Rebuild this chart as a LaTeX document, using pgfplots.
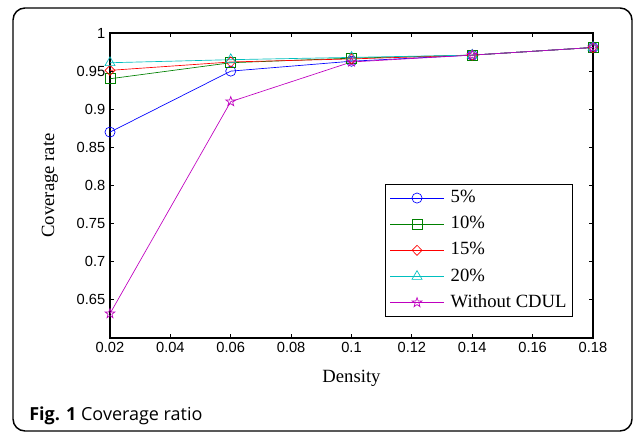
\documentclass[border=0pt]{standalone}
\usepackage{fontspec}
\usepackage{pgfplots}
\pgfplotsset{compat=1.18}
\setmainfont{Liberation Serif}
\newfontfamily\tickfont{Liberation Sans}
\newfontfamily\capfont{Open Sans}

\definecolor{mblue}{rgb}{0,0,1}
\definecolor{mgreen}{rgb}{0,0.5,0}
\definecolor{mred}{rgb}{1,0,0}
\definecolor{mcyan}{rgb}{0,0.75,0.75}
\definecolor{mmagenta}{rgb}{0.75,0,0.75}

% MATLAB-like pentagram outline
\pgfdeclareplotmark{pentagram}{%
  \pgfpathmoveto{\pgfpointpolar{90}{\pgfplotmarksize}}%
  \pgfpathlineto{\pgfpointpolar{126}{0.4\pgfplotmarksize}}%
  \pgfpathlineto{\pgfpointpolar{162}{\pgfplotmarksize}}%
  \pgfpathlineto{\pgfpointpolar{198}{0.4\pgfplotmarksize}}%
  \pgfpathlineto{\pgfpointpolar{234}{\pgfplotmarksize}}%
  \pgfpathlineto{\pgfpointpolar{270}{0.4\pgfplotmarksize}}%
  \pgfpathlineto{\pgfpointpolar{306}{\pgfplotmarksize}}%
  \pgfpathlineto{\pgfpointpolar{342}{0.4\pgfplotmarksize}}%
  \pgfpathlineto{\pgfpointpolar{18}{\pgfplotmarksize}}%
  \pgfpathlineto{\pgfpointpolar{54}{0.4\pgfplotmarksize}}%
  \pgfpathclose\pgfusepathqstroke}

\begin{document}
\begin{tikzpicture}
  % page = 635 x 432 px at 0.75pt per px
  \useasboundingbox (0,0) rectangle (476.25pt,324pt);
  \draw[line width=1.1pt, rounded corners=9pt] (9.75pt,0.75pt) rectangle (474pt,318pt);

  \begin{axis}[
    at={(82.5pt,70.5pt)}, anchor=south west,
    scale only axis,
    width=362.25pt, height=228.75pt,
    xmin=0.02, xmax=0.18,
    ymin=0.6, ymax=1,
    xtick={0.02,0.04,...,0.18},
    ytick={0.65,0.7,0.75,0.8,0.85,0.9,0.95,1},
    tick align=inside,
    major tick length=3pt,
    axis line style={line width=0.8pt},
    every tick/.style={black, line width=0.6pt},
    /pgf/number format/assume math mode=true,
    /pgf/number format/fixed,
    /pgf/number format/precision=2,
    ticklabel style={font=\tickfont\fontsize{11}{13}\selectfont},
    xlabel={Density},
    ylabel={Coverage rate},
    label style={font=\fontsize{14}{16}\selectfont},
    xlabel style={yshift=-6pt},
    ylabel style={yshift=7pt},
    legend style={
      at={(0.9586,0.0689)}, anchor=south east,
      font=\fontsize{14}{16}\selectfont,
      draw=black, line width=0.6pt,
      inner xsep=3.5pt, inner ysep=3pt,
      row sep=4.6pt,
      nodes={inner sep=1pt, text height=10pt, text depth=3pt},
    },
    legend cell align=left,
    legend image code/.code={
      \draw[#1, mark repeat=2, mark phase=2] plot coordinates {(0pt,0pt) (20pt,0pt) (40pt,0pt)};
      \path (44pt,0pt);
    },
    every axis plot/.append style={line width=0.5pt, mark size=3.8pt, mark options={solid, fill=none}},
  ]
    \addplot[mblue, mark=o] coordinates {
      (0.02,0.87) (0.06,0.95) (0.10,0.963) (0.14,0.971) (0.18,0.981)};
    \addlegendentry{5\%}
    \addplot[mgreen, mark=square] coordinates {
      (0.02,0.94) (0.06,0.961) (0.10,0.967) (0.14,0.971) (0.18,0.981)};
    \addlegendentry{10\%}
    \addplot[mred, mark=diamond, mark options={xscale=1.3}] coordinates {
      (0.02,0.951) (0.06,0.962) (0.10,0.966) (0.14,0.971) (0.18,0.981)};
    \addlegendentry{15\%}
    \addplot[mcyan, mark=triangle, mark options={scale=1.15}] coordinates {
      (0.02,0.961) (0.06,0.965) (0.10,0.968) (0.14,0.971) (0.18,0.981)};
    \addlegendentry{20\%}
    \addplot[mmagenta, mark=pentagram] coordinates {
      (0.02,0.632) (0.06,0.91) (0.10,0.962) (0.14,0.971) (0.18,0.981)};
    \addlegendentry{Without CDUL}
  \end{axis}

  \node[anchor=base west, inner sep=0pt, font=\capfont\fontsize{13.5}{15}\selectfont]
    at (21.75pt,9pt) {\textbf{Fig. 1} Coverage ratio};
\end{tikzpicture}
\end{document}
